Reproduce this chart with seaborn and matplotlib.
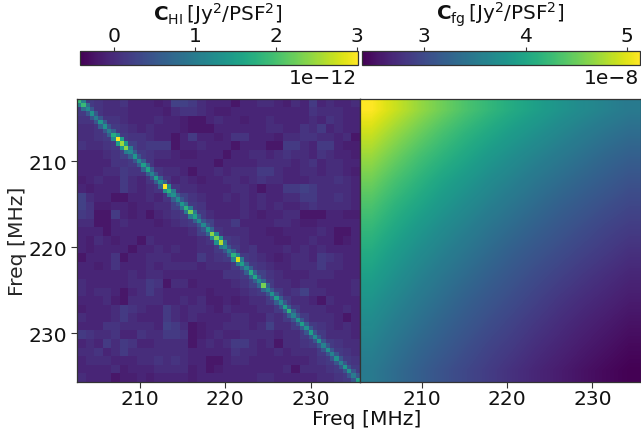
import numpy as np
import matplotlib
matplotlib.use("Agg")
import matplotlib.pyplot as plt
from matplotlib.cm import ScalarMappable
from matplotlib.colors import Normalize
import seaborn as sns

FREQ_START = 202.7
CHANNEL_WIDTH = 0.5
freq_ticks = [210, 220, 230]
hi_cbar_ticks = [0, 1, 2, 3]
fg_cbar_ticks = [3, 4, 5]
hi_limits = (-0.42, 3.01)
fg_limits = (2.386, 5.12)

# C_HI diagonal, per channel, in 1e-12
hi_diagonal = [1.9, 1.9, 1.2, 1.3, 1.0, 1.4, 1.3, 1.0, 1.7, 3.0, 2.5, 2.4, 1.2, 1.4, 1.2, 1.5, 1.6,
               1.1, 1.5, 1.3, 3.0, 1.8, 1.3, 1.2, 1.4, 1.8, 2.3, 1.5, 1.2, 1.2, 1.4, 2.4, 2.3, 2.6,
               1.2, 1.1, 1.8, 2.8, 1.5, 1.2, 1.7, 1.6, 1.2, 2.3, 1.1, 1.3, 1.5, 1.2, 1.5, 1.8, 1.1,
               1.3, 1.5, 1.3, 1.5, 1.2, 1.4, 1.1, 1.3, 1.1, 1.3, 1.1, 1.4, 1.3, 1.0, 1.5]
# C_HI first off-diagonal
hi_offdiagonal = [1.1, 0.8, 0.5, 0.5, 0.5, 0.6, 0.5, 0.6, 1.2, 1.5, 1.4, 1.0, 0.6, 0.5, 0.6, 0.7, 0.6,
                  0.5, 0.6, 0.7, 1.3, 1.0, 0.6, 0.5, 0.8, 1.0, 1.0, 0.6, 0.5, 0.5, 0.7, 1.2, 1.3, 0.9,
                  0.5, 0.6, 1.1, 1.0, 0.6, 0.6, 0.7, 0.6, 0.7, 0.7, 0.5, 0.5, 0.6, 0.5, 0.6, 0.6, 0.5,
                  0.5, 0.6, 0.5, 0.5, 0.5, 0.5, 0.5, 0.5, 0.5, 0.5, 0.5, 0.5, 0.5, 0.5]
# C_HI background read in 2-channel blocks, upper triangle, on a 0-9 shade scale
hi_blocks = [
    "87655 64443 48875 44424 45543 54745 445",
    "86555 44443 56654 33444 44444 46555 44",
    "86654 44544 32245 44344 54444 54654 4",
    "87654 54443 22244 44445 54465 74544",
    "97665 44247 44346 64443 55665 5452",
    "98677 72445 44424 44227 75477 433",
    "97655 43344 42445 54565 54654 43",
    "86444 44442 44445 55545 64554 4",
    "86554 24454 55577 54455 45543",
    "76454 34455 45655 44455 5654",
    "86554 44455 42447 78755 554",
    "98654 45454 54455 77556 54",
    "87644 44545 45445 65555 4",
    "87544 45434 45522 24433",
    "98557 44445 54334 4444",
    "86555 44334 44454 224",
    "97654 44334 45442 34",
    "87564 44545 45444 4",
    "97654 34554 76544",
    "87654 45557 5544",
    "98654 44555 444",
    "87554 55444 45",
    "97568 55444 5",
    "87554 25444",
    "87555 4454",
    "87555 424",
    "87654 54",
    "87555 4",
    "87655",
    "8765",
    "876",
    "87",
    "8",
]
shade_values = [-0.30, -0.26, -0.21, -0.135, -0.06, 0.015, 0.09, 0.165, 0.24, 0.315]
# C_fg read on a coarse 12 x 12 grid, upper triangle, in 1e-8
fg_rows = [
    [5.12, 4.90, 4.70, 4.52, 4.35, 4.20, 4.06, 3.93, 3.80, 3.69, 3.59, 3.50],
    [4.69, 4.50, 4.32, 4.16, 4.02, 3.88, 3.76, 3.64, 3.53, 3.43, 3.35],
    [4.31, 4.15, 4.00, 3.85, 3.72, 3.60, 3.49, 3.39, 3.29, 3.21],
    [3.98, 3.84, 3.70, 3.58, 3.46, 3.36, 3.26, 3.17, 3.08],
    [3.70, 3.57, 3.45, 3.34, 3.23, 3.14, 3.05, 2.97],
    [3.44, 3.33, 3.22, 3.12, 3.03, 2.94, 2.87],
    [3.21, 3.11, 3.02, 2.93, 2.85, 2.77],
    [3.01, 2.92, 2.83, 2.75, 2.68],
    [2.82, 2.74, 2.67, 2.60],
    [2.66, 2.59, 2.52],
    [2.52, 2.45],
    [2.39],
]

# assemble matrices
n = len(hi_diagonal)
hi = np.zeros((n, n))
for r, row in enumerate(hi_blocks):
    digits = row.replace(" ", "")
    for k, d in enumerate(digits):
        c = r + k
        v = shade_values[int(d)]
        hi[2 * r:2 * r + 2, 2 * c:2 * c + 2] = v
        hi[2 * c:2 * c + 2, 2 * r:2 * r + 2] = v
for i, v in enumerate(hi_offdiagonal):
    hi[i, i + 1] = hi[i + 1, i] = v
hi[np.arange(n), np.arange(n)] = hi_diagonal

m = len(fg_rows)
fg = np.zeros((m, m))
for r, row in enumerate(fg_rows):
    for k, v in enumerate(row):
        fg[r, r + k] = fg[r + k, r] = v

sns.set_theme(style="white", rc={"font.family": "DejaVu Sans", "mathtext.default": "regular"})
FS = 14.6
W, H = 641, 439
fig = plt.figure(figsize=(W / 100, H / 100), dpi=100)


def box(x0, y0, x1, y1):
    return [x0 / W, 1 - y1 / H, (x1 - x0) / W, (y1 - y0) / H]


ax_hi = fig.add_axes(box(77, 99.5, 360, 383))
ax_fg = fig.add_axes(box(360, 99.5, 641, 383))
cax_hi = fig.add_axes(box(80, 52, 357.5, 66))
cax_fg = fig.add_axes(box(362, 52, 639.5, 66))

sns.heatmap(hi, ax=ax_hi, cmap="viridis", vmin=hi_limits[0], vmax=hi_limits[1],
            xticklabels=False, yticklabels=False, cbar_ax=cax_hi,
            cbar_kws={"orientation": "horizontal"})
ax_hi.set_xticks([(t - FREQ_START) / CHANNEL_WIDTH for t in freq_ticks])
ax_hi.set_yticks([(t - FREQ_START) / CHANNEL_WIDTH for t in freq_ticks])
ax_hi.set_xticklabels(freq_ticks)
ax_hi.set_yticklabels(freq_ticks, rotation=0)
ax_hi.set_ylabel("Freq [MHz]", fontsize=FS, labelpad=1)

f_end = FREQ_START + n * CHANNEL_WIDTH
ax_fg.imshow(fg, cmap="viridis", vmin=fg_limits[0], vmax=fg_limits[1], aspect="auto",
             interpolation="bilinear", extent=(FREQ_START, f_end, f_end, FREQ_START))
ax_fg.set_xticks(freq_ticks)
ax_fg.set_xticklabels(freq_ticks)
ax_fg.set_yticks([])

for ax in (ax_hi, ax_fg):
    ax.tick_params(axis="both", labelsize=FS, length=4, width=0.8, bottom=True,
                   left=ax is ax_hi, color="#333333", labelcolor="#111111", pad=3)
    ax.tick_params(axis="x", pad=1)
    for s in ax.spines.values():
        s.set_visible(True)
        s.set_linewidth(0.9)
        s.set_color("#333333")

cbar_fg = fig.colorbar(ScalarMappable(Normalize(*fg_limits), "viridis"), cax=cax_fg,
                       orientation="horizontal")
cbar_hi = ax_hi.collections[0].colorbar
for cb, ticks in ((cbar_hi, hi_cbar_ticks), (cbar_fg, fg_cbar_ticks)):
    cb.set_ticks(ticks)
    cb.set_ticklabels([str(t) for t in ticks])
    cb.ax.xaxis.set_ticks_position("top")
    cb.ax.tick_params(axis="x", labelsize=FS, length=3, width=0.8, top=True, bottom=False,
                      color="#333333", labelcolor="#111111", pad=1)
    cb.outline.set_visible(True)
    cb.outline.set_linewidth(0.9)
    cb.outline.set_edgecolor("#333333")

fig.text(357 / W, 1 - 79 / H, "1e\u221212", ha="right", va="center", fontsize=FS, color="#111111")
fig.text(639 / W, 1 - 79 / H, "1e\u22128", ha="right", va="center", fontsize=FS, color="#111111")
fig.text(218 / W, 1 - 14.5 / H, r"$\mathbf{C}_{\rm HI}\,[{\rm Jy}^2/{\rm PSF}^2]$", ha="center",
         va="center", fontsize=14.4, color="#111111")
fig.text(500 / W, 1 - 14.5 / H, r"$\mathbf{C}_{\rm fg}\,[{\rm Jy}^2/{\rm PSF}^2]$", ha="center",
         va="center", fontsize=14.4, color="#111111")
fig.text(367 / W, 1 - 420 / H, "Freq [MHz]", ha="center", va="center", fontsize=FS, color="#111111")

fig.savefig("out.png", dpi=100)
